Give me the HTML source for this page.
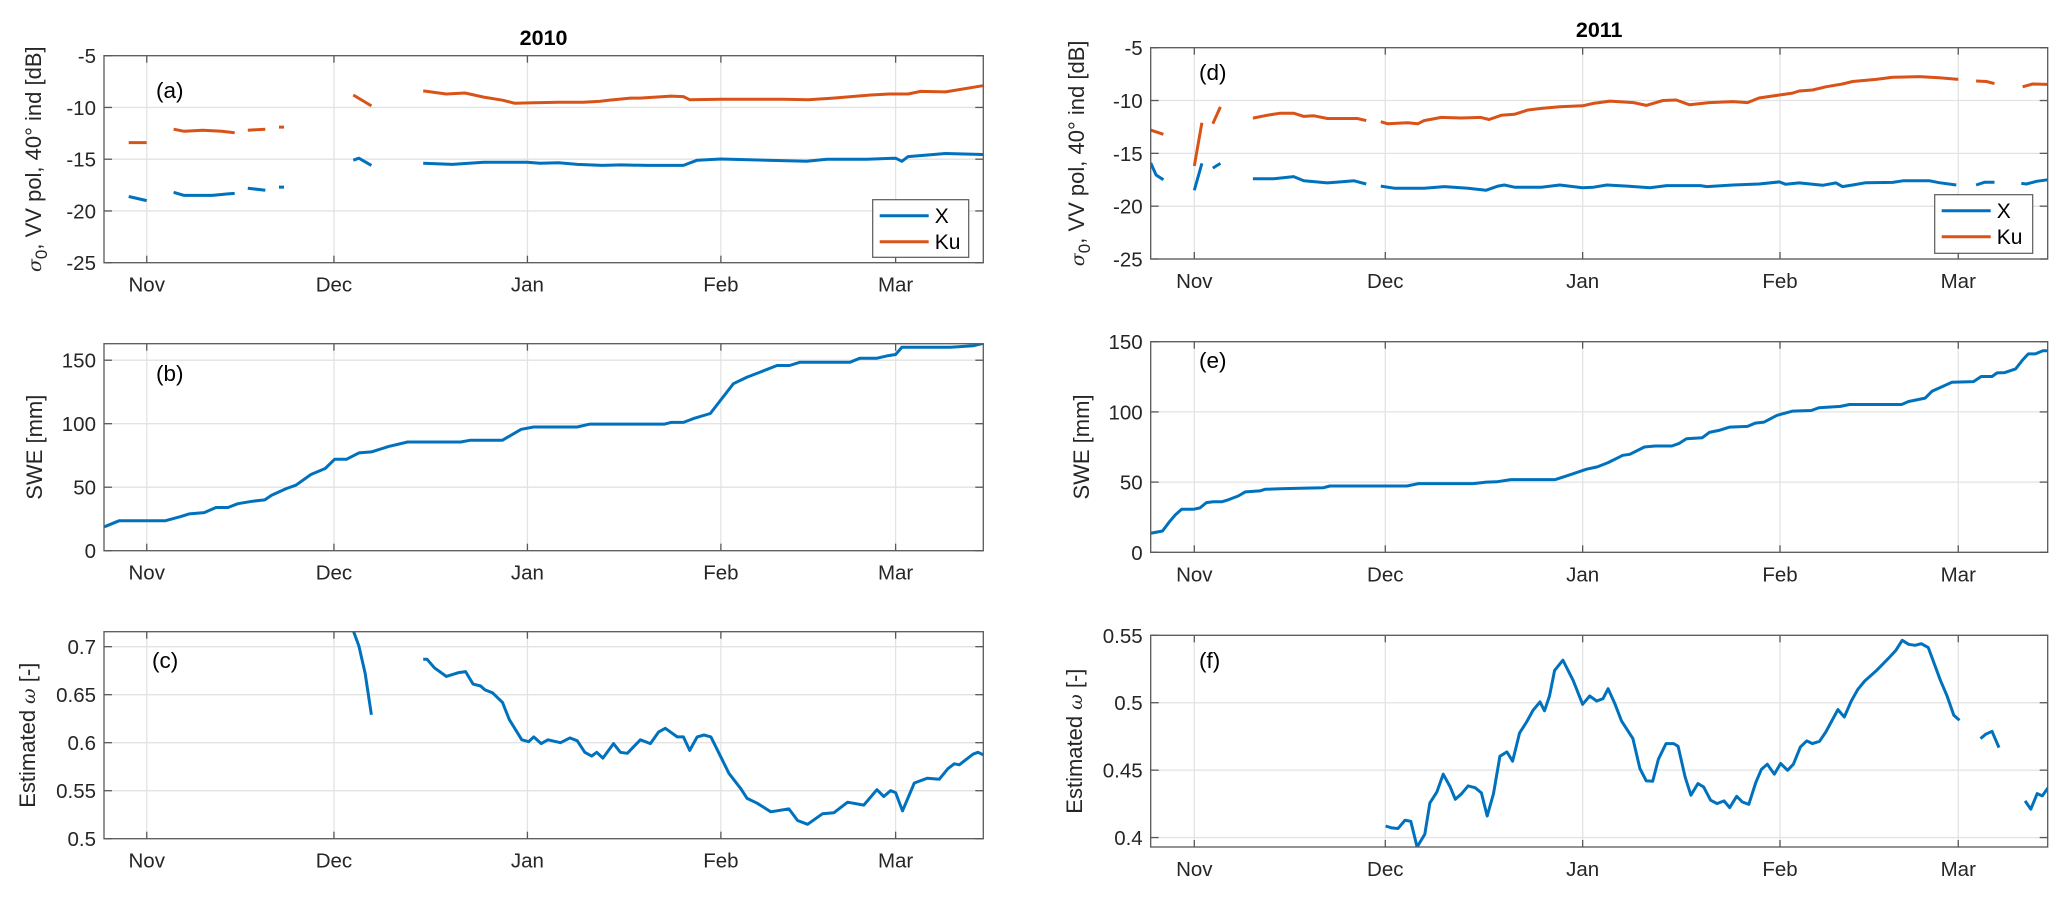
<!DOCTYPE html>
<html><head><meta charset="utf-8">
<style>
html,body{margin:0;padding:0;background:#fff;}
svg{display:block;font-family:"Liberation Sans",Arial,sans-serif;}
</style></head>
<body>
<svg id="fig" width="2067" height="897" viewBox="0 0 2067 897" xmlns="http://www.w3.org/2000/svg">
<defs>
<clipPath id="cpA"><rect x="104" y="55.7" width="879.3" height="207"/></clipPath>
<clipPath id="cpB"><rect x="104" y="343.7" width="879.3" height="207"/></clipPath>
<clipPath id="cpC"><rect x="104" y="631.7" width="879.3" height="207"/></clipPath>
<clipPath id="cpD"><rect x="1150.7" y="47.7" width="897" height="211.3"/></clipPath>
<clipPath id="cpE"><rect x="1150.7" y="341.7" width="897" height="210.6"/></clipPath>
<clipPath id="cpF"><rect x="1150.7" y="635.3" width="897" height="211.7"/></clipPath>
</defs>
</svg>
<script>
// ---- shared x-axis (days since Nov 1) ----
const monthTickDays = [0, 30, 61, 92, 120];
const monthTickLabels = ["Nov", "Dec", "Jan", "Feb", "Mar"];

// ---- panel (a) 2010 sigma0 ----
const aKuDays = [-2.9,0,null,4.3,6,9,12,14.1,null,16.2,19,null,21.2,22,null,33.1,36,null,44.3,48,51,54,57,59,62,66,70,72.7,74,77.5,79,84,86,87,92,96,102,106,110,116,119,122,124,128,134];
const aKuVals = [-13.4,-13.4,null,-12.1,-12.3,-12.2,-12.3,-12.45,null,-12.2,-12.1,null,-11.9,-11.9,null,-8.8,-9.85,null,-8.4,-8.7,-8.6,-9.0,-9.3,-9.6,-9.55,-9.5,-9.5,-9.4,-9.3,-9.1,-9.1,-8.9,-8.95,-9.25,-9.2,-9.2,-9.2,-9.25,-9.1,-8.8,-8.7,-8.7,-8.45,-8.5,-7.9];
const aXDays = [-2.9,0,null,4.3,6,10.5,13,14.1,null,16.2,19,null,21.2,22,null,33.1,34,36,null,44.3,49,54,61,63,66,69,73,76,80,86,88.2,92,99.4,105.7,109,115.4,120,121,122,128,134];
const aXVals = [-18.6,-19.0,null,-18.2,-18.5,-18.5,-18.35,-18.3,null,-17.8,-18.0,null,-17.7,-17.7,null,-15.1,-14.9,-15.6,null,-15.4,-15.5,-15.3,-15.3,-15.4,-15.35,-15.5,-15.6,-15.55,-15.6,-15.6,-15.1,-14.98,-15.1,-15.2,-15.0,-15.0,-14.9,-15.2,-14.75,-14.45,-14.55];

// ---- panel (b) 2010 SWE ----
const bDays = [-6.8,-4.4,3,5.3,6.8,9.2,11.1,13,14.6,17,18.9,20,22.4,23.9,26.3,28.6,30.1,32,34,36,38.7,41.8,50.3,51.9,57,60,62,69,71,83,84,86,87.6,90.3,94,96.2,98.3,101,103,104.7,112.7,114.3,117,118.6,120,121,128.8,132.5,134];
const bVals = [18.8,23.6,23.6,26.7,29,30,34,34,37,39,40,43.7,49,51.6,60,64.7,72,72,77,77.8,82,85.6,85.6,87,87,95.6,97.4,97.4,99.7,99.7,101,101,104,108,131.5,136.7,140.6,145.8,145.8,148.4,148.4,151.6,151.6,153.4,154.5,160.2,160.2,161.4,163.2];

// ---- panel (c) 2010 omega ----
const cDays = [32.8,34,35,36,null,44.3,44.9,46.1,48,50,51.1,52.3,53.5,54.2,55.4,57,58.1,60.1,61.2,62,63.2,64.3,66.3,67.8,69,70.2,71.3,72.1,73.1,74.8,75.9,77,79.1,80.7,82,83.1,85,86,87,88.2,89.3,90.4,92,93.3,95.2,96.2,97.8,100,102.9,104.3,105.9,108.3,110.1,112.3,114.9,117,118.1,119.2,120,121.1,123,125.1,127,128.4,129.4,130.2,132.4,133.2,134.2];
const cVals = [0.722,0.7007,0.672,0.629,null,0.687,0.687,0.678,0.669,0.673,0.674,0.661,0.659,0.655,0.652,0.642,0.624,0.603,0.601,0.606,0.599,0.603,0.600,0.605,0.602,0.590,0.586,0.590,0.584,0.599,0.590,0.589,0.603,0.599,0.611,0.615,0.606,0.606,0.592,0.606,0.608,0.606,0.585,0.568,0.552,0.542,0.537,0.528,0.531,0.519,0.515,0.526,0.527,0.538,0.535,0.551,0.544,0.550,0.548,0.529,0.558,0.563,0.562,0.573,0.578,0.577,0.588,0.590,0.587];

// ---- panel (d) 2011 sigma0 ----
const dKuDays = [-6.85,-4.85,null,0,1.2,null,2.9,4.1,null,9.2,11.4,13.5,15.6,17.2,18.8,20.9,23,25.6,27,null,29.3,30.4,33.5,35.1,36.1,38.8,41.9,45,46.3,48.2,50.3,52.4,54.5,57.4,61,62.7,65.3,69,71,73.6,75.7,77.8,80.9,84.6,86.9,88.7,91.9,94,95,97.1,99.2,101.8,103.4,107.1,109.7,113.9,117,120,null,122.8,124.4,125.7,null,130.1,131.7,134];
const dKuVals = [-12.8,-13.2,null,-16.2,-12.1,null,-12.2,-10.6,null,-11.66,-11.4,-11.2,-11.2,-11.5,-11.45,-11.7,-11.7,-11.7,-11.9,null,-12.0,-12.2,-12.1,-12.2,-11.9,-11.6,-11.65,-11.6,-11.8,-11.4,-11.3,-10.9,-10.75,-10.58,-10.5,-10.27,-10.05,-10.2,-10.46,-10.0,-9.95,-10.4,-10.2,-10.1,-10.2,-9.76,-9.48,-9.3,-9.1,-9.0,-8.7,-8.44,-8.2,-8.0,-7.8,-7.74,-7.84,-8.0,null,-8.15,-8.2,-8.4,null,-8.7,-8.44,-8.47];
const dXDays = [-6.85,-6,-4.85,null,0,1.2,null,2.9,4.1,null,9.2,12.5,15.6,17.2,20.9,23,25.1,27,null,29.3,31.4,36.1,39.3,43,45.8,47.7,48.7,50.3,54.5,57.4,61,62.7,64.8,68,71.6,74.2,79.5,80.5,84.6,88.7,91.9,92.9,95,98.7,100.8,101.8,103.4,105.5,109.7,111.3,115.5,117,119.7,null,122.8,124.1,125.7,null,129.9,130.7,132.3,134];
const dXVals = [-15.9,-17.05,-17.5,null,-18.5,-15.95,null,-16.4,-15.95,null,-17.4,-17.4,-17.2,-17.6,-17.8,-17.7,-17.6,-17.9,null,-18.1,-18.3,-18.3,-18.15,-18.3,-18.5,-18.1,-18.0,-18.2,-18.2,-18.0,-18.25,-18.2,-18.0,-18.1,-18.25,-18.05,-18.05,-18.15,-18.0,-17.9,-17.7,-17.93,-17.8,-18.02,-17.8,-18.15,-18.0,-17.78,-17.75,-17.6,-17.6,-17.78,-18.0,null,-18.0,-17.74,-17.74,null,-17.84,-17.9,-17.65,-17.5];

// ---- panel (e) 2011 SWE ----
const eDays = [-6.85,-5,-3.9,-3,-2,-0.15,0.9,1.9,3,4.3,5.3,6.9,8,10.3,11.1,13.5,16.6,20.3,21.3,33.4,35.2,43.8,45.9,47.5,49.7,56.7,59.3,61.6,63.3,65,67.3,68.4,70.7,72.4,75,76.1,77.3,79.8,80.9,82.4,84.1,86.9,88.1,89.5,91.5,94,96.9,98.1,101.5,102.9,111.1,112.2,114.8,115.9,119,122.4,123.6,125.3,126.1,127.3,129,130.1,131,132.1,133.3,134];
const eVals = [13.5,15.2,21.8,26.6,30.6,30.6,31.6,35.4,36,36,37.3,40.1,43,43.7,44.9,45.2,45.6,46,47.2,47.2,48.9,48.9,50,50.2,51.8,51.8,55.6,59.2,60.8,63.9,69.1,69.8,75,75.7,75.7,77.4,80.9,81.6,85.4,86.8,89.2,89.7,92,92.7,97.5,100.6,101,102.9,103.9,105.3,105.3,107.4,109.8,114.8,121.1,121.6,125.2,125.2,127.8,128,130.6,137,141.3,141.3,143.6,143.6];

// ---- panel (f) 2011 omega ----
const fDays = [30.05,31,32,33.1,34,35,36.2,37,38.1,39.1,40.2,41,42,43,44.1,45.1,46,47,48,49.1,50,51.1,52.2,53.2,54.3,55,55.8,56.6,57.9,59.5,61,62.1,63.2,64.2,65,66.1,67.1,68.9,70,71,72,72.9,74.1,75.3,76,77.1,78,79.1,80,81.1,82.1,83.2,84.1,85.2,86.1,87.1,88.2,89.1,90,91.1,92.1,93.2,94.1,95.2,96.2,97.1,98.2,99.2,101.1,102.1,103.2,104.2,105.3,107.1,109,110.2,111.2,112.2,113.2,114.2,115.3,117.2,118.2,119.3,120.2,null,123.5,124.3,125.3,126.4,null,130.5,131.4,132.4,133.2,134.4];
const fVals = [0.4086,0.4072,0.4067,0.4129,0.412,0.393,0.4025,0.4257,0.4339,0.447,0.4376,0.4284,0.4326,0.4383,0.437,0.4331,0.416,0.4326,0.4603,0.4635,0.4566,0.4776,0.4857,0.4944,0.5006,0.494,0.505,0.524,0.5315,0.5166,0.4988,0.505,0.5013,0.503,0.5104,0.4988,0.4865,0.4734,0.4512,0.442,0.4418,0.4581,0.4697,0.4697,0.4677,0.445,0.4314,0.44,0.4376,0.4277,0.4252,0.4272,0.4222,0.4306,0.4264,0.4247,0.4408,0.4507,0.4544,0.447,0.4549,0.4499,0.4544,0.4672,0.4717,0.4697,0.4714,0.4783,0.4949,0.4894,0.5013,0.5097,0.5161,0.5236,0.5327,0.5389,0.5463,0.5433,0.5426,0.5438,0.5409,0.5166,0.5055,0.4907,0.487,null,0.4734,0.4766,0.4788,0.4667,null,0.4272,0.421,0.4326,0.4309,0.4388];

// ---- y tick arrays ----
const sigmaTicks = [-25, -20, -15, -10, -5];
const swe2010Ticks = [0, 50, 100, 150];
const swe2011Ticks = [0, 50, 100, 150];
const omega2010Ticks = [0.5, 0.55, 0.6, 0.65, 0.7];
const omega2011Ticks = [0.4, 0.45, 0.5, 0.55];
const omega2010TickLabels = ["0.5", "0.55", "0.6", "0.65", "0.7"];
const omega2011TickLabels = ["0.4", "0.45", "0.5", "0.55"];

const NS = "http://www.w3.org/2000/svg";
const svg = document.getElementById("fig");
const BLUE = "#0072BD", ORANGE = "#D95319";
const XMIN = -6.85, XMAX = 134.05;

function mk(tag, attrs, parent) {
  const e = document.createElementNS(NS, tag);
  for (const k in attrs) e.setAttribute(k, attrs[k]);
  (parent || svg).appendChild(e);
  return e;
}

function panel(p) {
  const g = mk("g", {});
  
  
  const xs = d => p.x0 + (d - XMIN) / (XMAX - XMIN) * (p.x1 - p.x0);
  const ys = v => p.y1 - (v - p.ymin) / (p.ymax - p.ymin) * (p.y1 - p.y0);
  mk("rect", {x: p.x0, y: p.y0, width: p.x1 - p.x0, height: p.y1 - p.y0, fill: "#fff"}, g);
  monthTickDays.forEach(d => {
    const gl = mk("line", {x1: xs(d), x2: xs(d), y1: p.y0, y2: p.y1, stroke: "#e3e3e3", "stroke-width": 1.3}, g);
    
    
  });
  p.yticks.forEach(v => {
    const gl = mk("line", {x1: p.x0, x2: p.x1, y1: ys(v), y2: ys(v), stroke: "#e3e3e3", "stroke-width": 1.3}, g);
    
    
  });
  p.series.forEach(s => {
    let d = "", pen = false;
    for (let i = 0; i < s.days.length; i++) {
      if (s.days[i] === null || s.vals[i] === null) { pen = false; continue; }
      d += (pen ? "L" : "M") + xs(s.days[i]).toFixed(1) + " " + ys(s.vals[i]).toFixed(1);
      pen = true;
    }
    const path = mk("path", {d: d, fill: "none", stroke: s.color, "stroke-width": 3, "stroke-linejoin": "round", "clip-path": "url(#" + p.clip + ")"}, g);
    
    
  });
  const box = mk("rect", {x: p.x0, y: p.y0, width: p.x1 - p.x0, height: p.y1 - p.y0, fill: "none", stroke: "#595959", "stroke-width": 1.3}, g);
  
  
  monthTickDays.forEach((d, i) => {
    mk("line", {x1: xs(d), x2: xs(d), y1: p.y1, y2: p.y1 - 7, stroke: "#595959", "stroke-width": 1.3}, g);
    mk("line", {x1: xs(d), x2: xs(d), y1: p.y0, y2: p.y0 + 7, stroke: "#595959", "stroke-width": 1.3}, g);
    const t = mk("text", {x: xs(d), y: p.y1 + 29, "text-anchor": "middle", "font-size": 20.5, fill: "#262626"}, g);
    t.textContent = monthTickLabels[i];
    
    
  });
  p.yticks.forEach((v, i) => {
    mk("line", {x1: p.x0, x2: p.x0 + 8, y1: ys(v), y2: ys(v), stroke: "#595959", "stroke-width": 1.3}, g);
    mk("line", {x1: p.x1, x2: p.x1 - 8, y1: ys(v), y2: ys(v), stroke: "#595959", "stroke-width": 1.3}, g);
    const t = mk("text", {x: p.x0 - 8, y: ys(v) + 7.5, "text-anchor": "end", "font-size": 20.5, fill: "#262626"}, g);
    t.textContent = p.ytickLabels ? p.ytickLabels[i] : String(v);
    
    
  });
  const pl = mk("text", {x: p.letterX, y: p.letterY, "font-size": 22.5, fill: "#000"}, g);
  pl.textContent = p.letter;
  
  
  const yl = mk("text", {transform: "translate(" + p.ylabX + "," + ((p.y0 + p.y1) / 2) + ") rotate(-90)", "text-anchor": "middle", "font-size": 22, fill: "#262626"}, g);
  
  
  if (p.sigma) {
    yl.innerHTML = '<tspan font-family="DejaVu Serif" font-style="italic" font-size="19">σ</tspan><tspan font-size="17" dy="6">0</tspan><tspan dy="-6">, VV pol, 40° ind [dB]</tspan>';
  } else if (p.omega) {
    yl.innerHTML = 'Estimated <tspan font-family="DejaVu Serif" font-style="italic" font-size="19">ω</tspan> [-]';
  } else {
    yl.textContent = p.ylabel;
  }
  if (p.legend) {
    const L = p.legend;
    const lg = mk("g", {}, g);
    
    
    mk("rect", {x: L.x, y: L.y, width: L.w, height: L.h, fill: "#fff", stroke: "#595959", "stroke-width": 1.2}, lg);
    [["X", BLUE, L.y + 16], ["Ku", ORANGE, L.y + 42]].forEach(e => {
      const le = mk("g", {}, lg);
      
      
      mk("line", {x1: L.x + 7, x2: L.x + 56, y1: e[2], y2: e[2], stroke: e[1], "stroke-width": 3}, le);
      const t = mk("text", {x: L.x + 62, y: e[2] + 7.5, "font-size": 21, fill: "#000"}, le);
      t.textContent = e[0];
    });
  }
}

const L = {x0: 104, x1: 983.3}, R = {x0: 1150.7, x1: 2047.7};
panel({name: "panel-a-sigma0-2010", x0: L.x0, x1: L.x1, y0: 55.7, y1: 262.7, ymin: -25, ymax: -5, yticks: sigmaTicks, clip: "cpA",
  series: [{name: "line-ku-2010", days: aKuDays, vals: aKuVals, color: ORANGE}, {name: "line-x-2010", days: aXDays, vals: aXVals, color: BLUE}],
  letter: "(a)", letterX: 156, letterY: 98, ylabX: 41, sigma: true, legend: {x: 872.7, y: 199.7, w: 96, h: 57.6}});
panel({name: "panel-b-swe-2010", x0: L.x0, x1: L.x1, y0: 343.7, y1: 550.7, ymin: 0, ymax: 163, yticks: swe2010Ticks, clip: "cpB",
  series: [{name: "line-swe-2010", days: bDays, vals: bVals, color: BLUE}], letter: "(b)", letterX: 156, letterY: 381, ylabX: 42, ylabel: "SWE [mm]"});
panel({name: "panel-c-omega-2010", x0: L.x0, x1: L.x1, y0: 631.7, y1: 838.7, ymin: 0.5, ymax: 0.7156, yticks: omega2010Ticks, ytickLabels: omega2010TickLabels, clip: "cpC",
  series: [{name: "line-omega-2010", days: cDays, vals: cVals, color: BLUE}], letter: "(c)", letterX: 152, letterY: 668, ylabX: 35, omega: true});
panel({name: "panel-d-sigma0-2011", x0: R.x0, x1: R.x1, y0: 47.7, y1: 259, ymin: -25, ymax: -5, yticks: sigmaTicks, clip: "cpD",
  series: [{name: "line-ku-2011", days: dKuDays, vals: dKuVals, color: ORANGE}, {name: "line-x-2011", days: dXDays, vals: dXVals, color: BLUE}],
  letter: "(d)", letterX: 1199, letterY: 80, ylabX: 1084, sigma: true, legend: {x: 1934.7, y: 194.7, w: 98, h: 58.6}});
panel({name: "panel-e-swe-2011", x0: R.x0, x1: R.x1, y0: 341.7, y1: 552.3, ymin: 0, ymax: 150, yticks: swe2011Ticks, clip: "cpE",
  series: [{name: "line-swe-2011", days: eDays, vals: eVals, color: BLUE}], letter: "(e)", letterX: 1199, letterY: 368, ylabX: 1089, ylabel: "SWE [mm]"});
panel({name: "panel-f-omega-2011", x0: R.x0, x1: R.x1, y0: 635.3, y1: 847, ymin: 0.393, ymax: 0.55, yticks: omega2011Ticks, ytickLabels: omega2011TickLabels, clip: "cpF",
  series: [{name: "line-omega-2011", days: fDays, vals: fVals, color: BLUE}], letter: "(f)", letterX: 1199, letterY: 668, ylabX: 1082, omega: true});

const t1 = mk("text", {x: 543.6, y: 45, "text-anchor": "middle", "font-size": 21.5, "font-weight": "bold", fill: "#000"});
t1.textContent = "2010";


const t2 = mk("text", {x: 1599.2, y: 37, "text-anchor": "middle", "font-size": 21.5, "font-weight": "bold", fill: "#000"});
t2.textContent = "2011";


</script>
</body></html>
